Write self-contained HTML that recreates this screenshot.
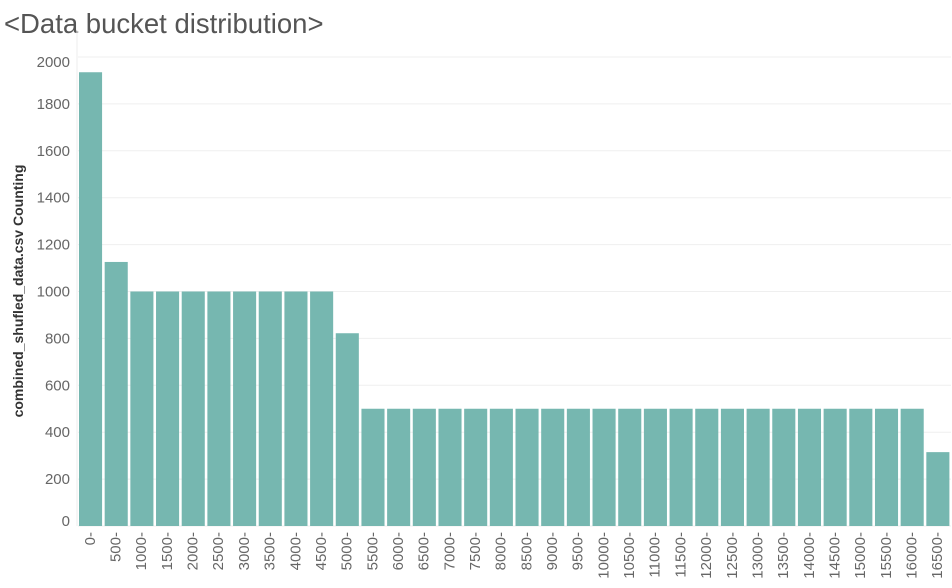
<!DOCTYPE html>
<html><head><meta charset="utf-8"><style>
body{margin:0;background:#fff;font-family:"Liberation Sans",sans-serif}
#t{position:absolute;left:4px;top:8px;font-size:27.5px;color:#555;font-weight:300}
</style></head><body>
<div id="t">&lt;Data bucket distribution&gt;</div>
<svg id="c" width="952" height="588" style="position:absolute;left:0;top:0"></svg>
<script>
const categories=["0-","500-","1000-","1500-","2000-","2500-","3000-","3500-","4000-","4500-","5000-","5500-","6000-","6500-","7000-","7500-","8000-","8500-","9000-","9500-","10000-","10500-","11000-","11500-","12000-","12500-","13000-","13500-","14000-","14500-","15000-","15500-","16000-","16500-"];
const counts=[1935,1126,1000,1000,1000,1000,1000,1000,1000,1000,822,500,500,500,500,500,500,500,500,500,500,500,500,500,500,500,500,500,500,500,500,500,500,315];
const yTicks=[0,200,400,600,800,1000,1200,1400,1600,1800,2000];
const svg=document.getElementById('c');const NS='http://www.w3.org/2000/svg';
const L=78,R=951,B=526,T=57,ymax=2000;
const y=v=>B-(v/ymax)*(B-T);
const bw=(R-L)/categories.length;
const x=i=>L+i*bw;
function mk(tag,a,p){const e=document.createElementNS(NS,tag);for(const k in a)e.setAttribute(k,a[k]);(p||svg).appendChild(e);return e;}
yTicks.forEach(v=>{
 const g=mk('line',{x1:L,x2:R,y1:y(v),y2:y(v),stroke:'#efefef','stroke-width':1});
 
 
 const off=v===0?-5:(v===2000?5:0);
 const t=mk('text',{x:70,y:y(v)+5+off,'text-anchor':'end','font-size':15,fill:'#666'});
 t.textContent=v;
 
 
});
mk('line',{x1:L-1,x2:L-1,y1:30,y2:B,stroke:'#eee'});
categories.forEach((c,i)=>{
 const r=mk('rect',{x:x(i)+1,y:y(counts[i]),width:bw-2.6,height:B-y(counts[i]),fill:'#76b7b0'});
 
 
 const cx=x(i)+bw/2-1+5;
 const t=mk('text',{x:0,y:0,'text-anchor':'end','font-size':15,fill:'#666',transform:`translate(${cx},532) rotate(-90)`});
 t.textContent=c;
 
 
});
const yt=mk('text',{x:0,y:0,'text-anchor':'middle','font-size':14,'font-weight':'bold',fill:'#333',transform:'translate(23,291) rotate(-90)'});
yt.textContent='combined_shufled_data.csv Counting';


</script>
</body></html>
